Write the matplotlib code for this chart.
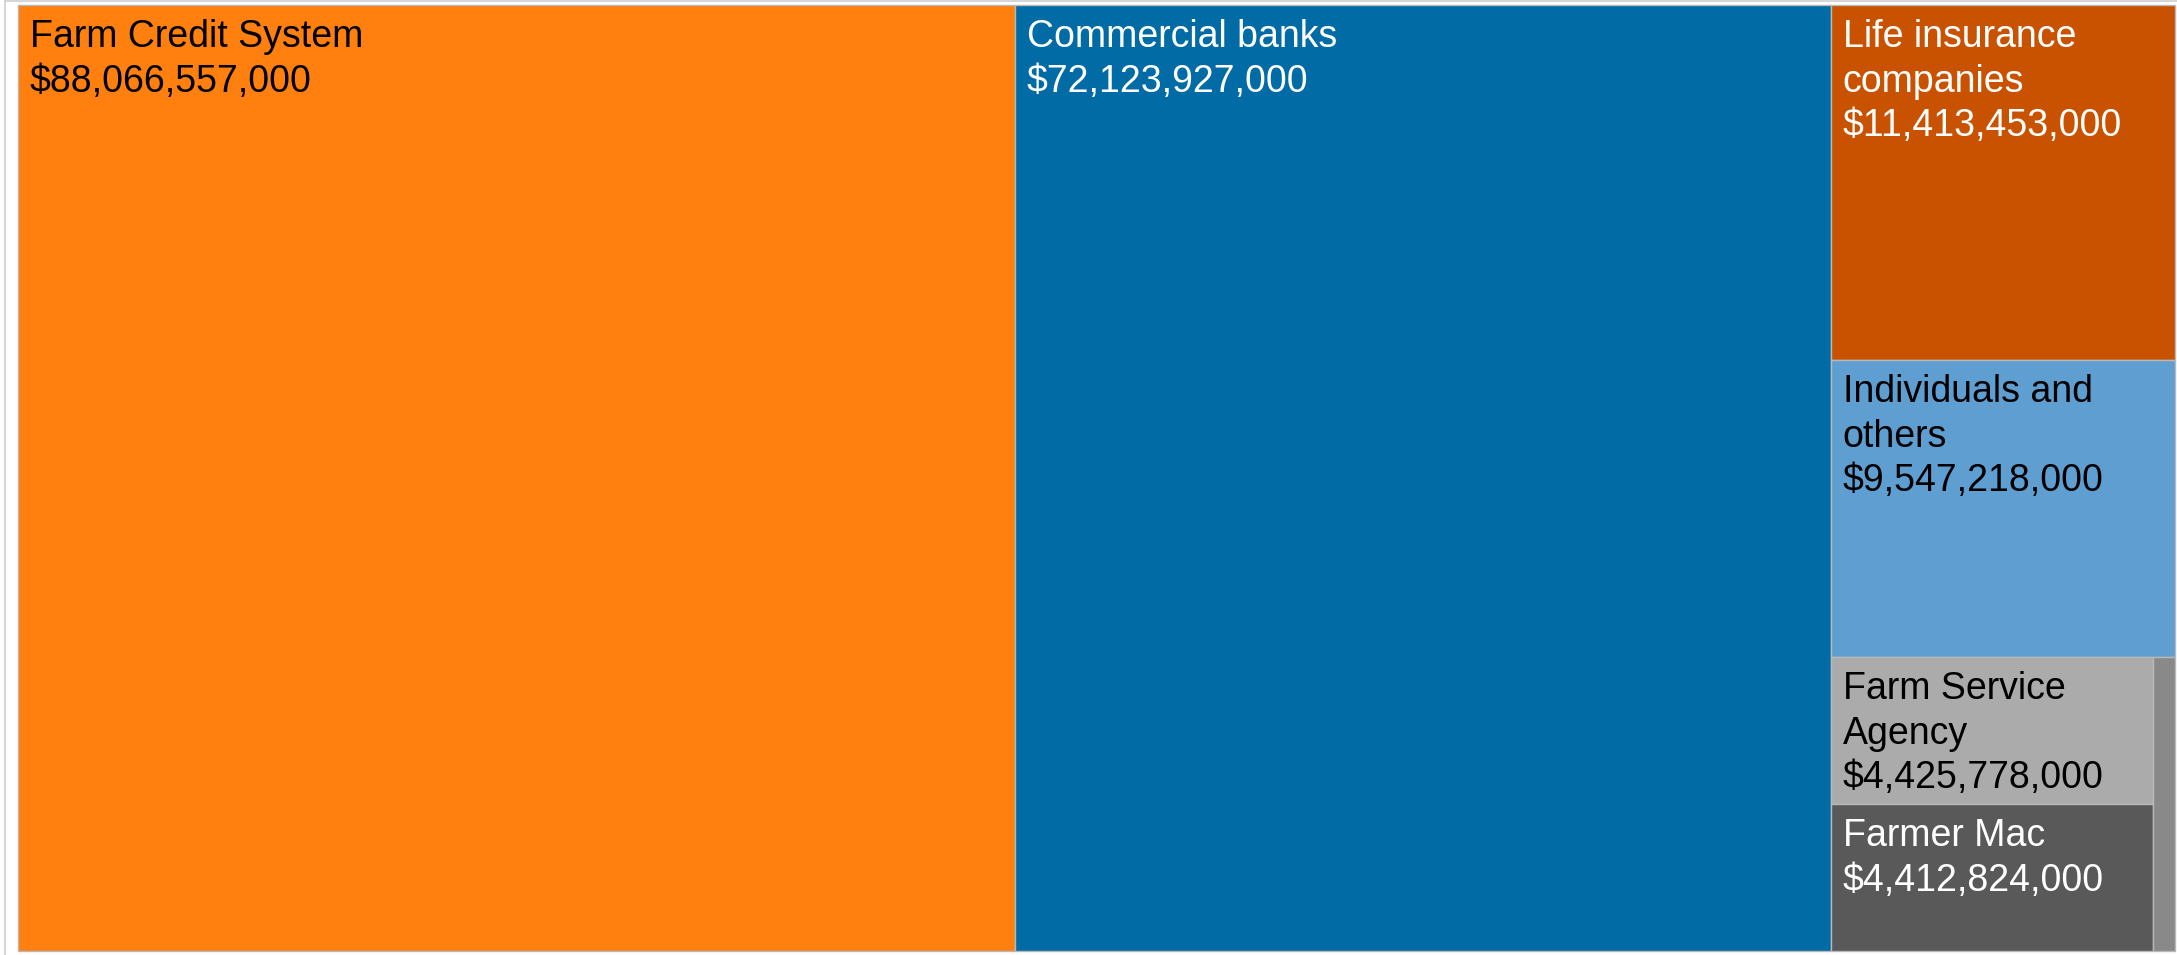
import math
import matplotlib
matplotlib.use("Agg")
import matplotlib.pyplot as plt
from matplotlib.patches import Rectangle

# ── data ──────────────────────────────────────────────────────────────
labels = [
    "Farm Credit System",
    "Commercial banks",
    "Life insurance\ncompanies",
    "Individuals and\nothers",
    "Farm Service\nAgency",
    "Farmer Mac",
    "",  # thin unlabeled sliver
]
values = [88066557000, 72123927000, 11413453000, 9547218000,
          4425778000, 4412824000, 610000000]
colors = ["#FF800E", "#006BA4", "#C85200", "#5F9ED1",
          "#ABABAB", "#595959", "#898989"]
text_colors = ["black", "white", "white", "black", "black", "white", "white"]


# ── squarified layout (d3 style, golden ratio) ────────────────────────
def squarify(vals, x0, y0, x1, y1, ratio=(1 + math.sqrt(5)) / 2):
    rects = [None] * len(vals)
    n = len(vals)
    i0 = i1 = 0
    value = float(sum(vals))
    while i0 < n:
        dx, dy = x1 - x0, y1 - y0
        s = vals[i1]
        i1 += 1
        mn = mx = s
        alpha = max(dy / dx, dx / dy) / (value * ratio)
        beta = s * s * alpha
        min_ratio = max(mx / beta, beta / mn)
        while i1 < n:
            v = vals[i1]
            s += v
            mn, mx = min(mn, v), max(mx, v)
            beta = s * s * alpha
            new_ratio = max(mx / beta, beta / mn)
            if new_ratio > min_ratio:
                s -= v
                break
            min_ratio = new_ratio
            i1 += 1
        row = list(range(i0, i1))
        if dx < dy:  # dice: horizontal band on top
            ny = y0 + dy * s / value
            cx = x0
            for k in row:
                w = dx * vals[k] / s
                rects[k] = (cx, y0, cx + w, ny)
                cx += w
            y0 = ny
        else:  # slice: vertical column on the left
            nx = x0 + dx * s / value
            cy = y0
            for k in row:
                h = dy * vals[k] / s
                rects[k] = (x0, cy, nx, cy + h)
                cy += h
            x0 = nx
        value -= s
        i0 = i1
    return rects


W, H = 2177, 955
fig = plt.figure(figsize=(W / 100, H / 100), dpi=100)
fig.patch.set_facecolor("white")
ax = fig.add_axes([0, 0, 1, 1])
ax.set_xlim(0, W)
ax.set_ylim(H, 0)
ax.axis("off")

# page frame lines
ax.plot([5, 5], [0, H], color="#d6d6d6", linewidth=1.5)
ax.plot([5, W], [1, 1], color="#d6d6d6", linewidth=1.5)

rects = squarify(values, 18, 5, 2175, 951)
for (rx0, ry0, rx1, ry1), lab, val, col, tcol in zip(
        rects, labels, values, colors, text_colors):
    ax.add_patch(Rectangle((rx0, ry0), rx1 - rx0, ry1 - ry0,
                           facecolor=col, edgecolor="#b8b8b8", linewidth=1))
    if lab:
        ax.text(rx0 + 12, ry0 + 14, f"{lab}\n${val:,.0f}",
                ha="left", va="top", color=tcol, fontsize=27,
                family="Liberation Sans", linespacing=1.31)

fig.savefig("out.png", dpi=100, facecolor=fig.get_facecolor())
